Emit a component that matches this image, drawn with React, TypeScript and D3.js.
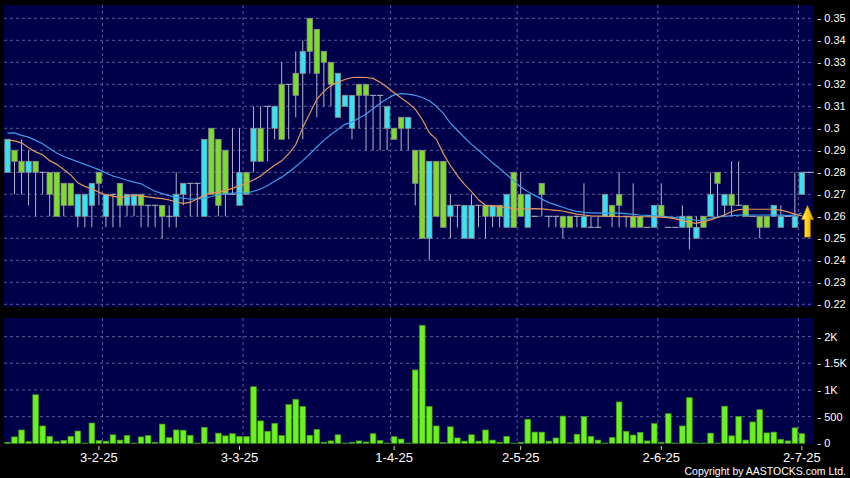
import React from 'react';
import * as d3 from 'd3';

// ---- Data ----
const opens = [
  0.28, 0.29, 0.285, 0.28, 0.285, 0.28, 0.28, 0.28, 0.275, 0.275,
  0.26, 0.26, 0.265, 0.28, 0.26, 0.27, 0.275, 0.265, 0.265, 0.27,
  0.265, 0.265, 0.265, 0.26, 0.26, 0.27, 0.275, 0.275, 0.26, 0.30,
  0.295, 0.29, 0.27, 0.265, 0.28, 0.285, 0.30, 0.31, 0.30, 0.32,
  0.32, 0.325, 0.325, 0.35, 0.345, 0.335, 0.33, 0.305, 0.31, 0.30,
  0.32, 0.32, 0.315, 0.315, 0.30, 0.30, 0.305, 0.30, 0.29, 0.29,
  0.25, 0.285, 0.285, 0.26, 0.265, 0.25, 0.25, 0.265, 0.265, 0.26,
  0.265, 0.255, 0.28, 0.27, 0.255, 0.26, 0.275, 0.26, 0.26, 0.26,
  0.26, 0.26, 0.255, 0.255, 0.255, 0.26, 0.265, 0.27, 0.26, 0.26,
  0.26, 0.255, 0.255, 0.265, 0.255, 0.255, 0.255, 0.26, 0.25, 0.26,
  0.26, 0.28, 0.265, 0.27, 0.265, 0.265, 0.26, 0.26, 0.26, 0.26,
  0.255, 0.26, 0.255, 0.27,
];
const highs = [
  0.295, 0.29, 0.295, 0.29, 0.285, 0.28, 0.28, 0.28, 0.275, 0.275,
  0.27, 0.27, 0.275, 0.28, 0.27, 0.27, 0.275, 0.27, 0.27, 0.27,
  0.265, 0.265, 0.265, 0.265, 0.28, 0.275, 0.275, 0.275, 0.295, 0.30,
  0.295, 0.29, 0.30, 0.30, 0.28, 0.31, 0.31, 0.31, 0.31, 0.33,
  0.32, 0.335, 0.34, 0.35, 0.345, 0.335, 0.33, 0.325, 0.315, 0.315,
  0.32, 0.32, 0.315, 0.315, 0.31, 0.30, 0.305, 0.305, 0.29, 0.29,
  0.285, 0.285, 0.285, 0.27, 0.265, 0.265, 0.27, 0.265, 0.265, 0.265,
  0.265, 0.27, 0.28, 0.28, 0.27, 0.26, 0.275, 0.26, 0.26, 0.26,
  0.26, 0.26, 0.275, 0.26, 0.26, 0.27, 0.265, 0.28, 0.26, 0.275,
  0.26, 0.255, 0.265, 0.275, 0.255, 0.255, 0.265, 0.26, 0.26, 0.26,
  0.28, 0.28, 0.27, 0.285, 0.285, 0.265, 0.26, 0.26, 0.26, 0.265,
  0.265, 0.26, 0.28, 0.28,
];
const lows = [
  0.28, 0.27, 0.27, 0.265, 0.26, 0.27, 0.26, 0.26, 0.26, 0.265,
  0.255, 0.255, 0.255, 0.265, 0.255, 0.255, 0.255, 0.26, 0.26, 0.255,
  0.255, 0.255, 0.25, 0.255, 0.255, 0.265, 0.26, 0.26, 0.26, 0.27,
  0.26, 0.26, 0.27, 0.265, 0.27, 0.28, 0.285, 0.285, 0.295, 0.295,
  0.295, 0.305, 0.295, 0.325, 0.305, 0.31, 0.31, 0.305, 0.31, 0.295,
  0.30, 0.29, 0.29, 0.29, 0.29, 0.295, 0.29, 0.29, 0.265, 0.25,
  0.24, 0.26, 0.255, 0.25, 0.255, 0.25, 0.25, 0.255, 0.25, 0.255,
  0.255, 0.255, 0.255, 0.26, 0.255, 0.26, 0.26, 0.255, 0.255, 0.25,
  0.255, 0.255, 0.255, 0.255, 0.255, 0.26, 0.255, 0.255, 0.255, 0.255,
  0.255, 0.255, 0.255, 0.26, 0.255, 0.255, 0.255, 0.245, 0.25, 0.255,
  0.26, 0.26, 0.26, 0.26, 0.265, 0.26, 0.26, 0.25, 0.255, 0.26,
  0.255, 0.26, 0.255, 0.27,
];
const closes = [
  0.295, 0.285, 0.28, 0.285, 0.28, 0.28, 0.27, 0.26, 0.265, 0.265,
  0.27, 0.27, 0.275, 0.275, 0.27, 0.27, 0.265, 0.27, 0.27, 0.265,
  0.265, 0.265, 0.26, 0.26, 0.27, 0.275, 0.275, 0.275, 0.295, 0.27,
  0.265, 0.27, 0.27, 0.28, 0.27, 0.30, 0.285, 0.31, 0.31, 0.295,
  0.32, 0.315, 0.335, 0.335, 0.325, 0.33, 0.32, 0.325, 0.315, 0.315,
  0.315, 0.315, 0.315, 0.315, 0.31, 0.295, 0.30, 0.305, 0.275, 0.25,
  0.285, 0.26, 0.255, 0.265, 0.265, 0.265, 0.265, 0.265, 0.26, 0.265,
  0.26, 0.27, 0.255, 0.26, 0.27, 0.26, 0.27, 0.26, 0.26, 0.255,
  0.255, 0.26, 0.26, 0.255, 0.255, 0.27, 0.26, 0.265, 0.26, 0.255,
  0.255, 0.255, 0.265, 0.26, 0.255, 0.255, 0.26, 0.255, 0.255, 0.255,
  0.27, 0.275, 0.27, 0.265, 0.265, 0.26, 0.26, 0.255, 0.255, 0.265,
  0.26, 0.26, 0.26, 0.28,
];
const volumes = [
  20, 120, 250, 30, 910, 325, 130, 30, 55, 130,
  230, 5, 380, 50, 40, 160, 60, 145, 5, 120,
  145, 20, 360, 105, 250, 245, 150, 5, 300, 20,
  190, 140, 180, 130, 125, 1060, 420, 225, 375, 145,
  725, 825, 690, 150, 260, 20, 45, 160, 5, 20,
  45, 25, 180, 55, 5, 125, 80, 5, 1375, 2212,
  690, 325, 15, 310, 100, 40, 160, 40, 250, 60,
  20, 130, 5, 20, 450, 210, 210, 40, 100, 510,
  10, 170, 500, 130, 60, 5, 110, 775, 225, 155,
  205, 45, 370, 20, 555, 5, 325, 855, 5, 5,
  190, 5, 695, 140, 505, 60, 400, 630, 195, 210,
  75, 45, 290, 180,
];
const maShort = [
  0.2947, 0.2943, 0.2934, 0.2912, 0.2893, 0.2880, 0.2853, 0.2836, 0.2813, 0.2788,
  0.2752, 0.2736, 0.2724, 0.2710, 0.2697, 0.2692, 0.2686, 0.2690, 0.2695, 0.2693,
  0.2688, 0.2684, 0.2680, 0.2674, 0.2665, 0.2659, 0.2663, 0.2680, 0.2695, 0.2707,
  0.2709, 0.2718, 0.2727, 0.2739, 0.2751, 0.2765, 0.2783, 0.2808, 0.2832, 0.2852,
  0.2885, 0.2925, 0.3004, 0.3067, 0.3132, 0.3168, 0.3194, 0.3210, 0.3222, 0.3231,
  0.3232, 0.3231, 0.3227, 0.3209, 0.3187, 0.3162, 0.3138, 0.3115, 0.3087, 0.3040,
  0.2980, 0.2950, 0.2885, 0.2830, 0.2785, 0.2745, 0.2712, 0.2675, 0.2650, 0.2647,
  0.2643, 0.2640, 0.2635, 0.2632, 0.2634, 0.2635, 0.2634, 0.2630, 0.2627, 0.2624,
  0.2617, 0.2610, 0.2606, 0.2602, 0.2601, 0.2601, 0.2600, 0.2599, 0.2598, 0.2598,
  0.2598, 0.2598, 0.2597, 0.2596, 0.2594, 0.2588, 0.2580, 0.2572, 0.2568, 0.2576,
  0.2584, 0.2595, 0.2606, 0.2622, 0.2630, 0.2632, 0.2632, 0.2632, 0.2632, 0.2632,
  0.2628, 0.2620, 0.2610, 0.2602,
];
const maLong = [
  0.2978, 0.2979, 0.2968, 0.2960, 0.2945, 0.2930, 0.2908, 0.2888, 0.2872, 0.2860,
  0.2848, 0.2836, 0.2824, 0.2812, 0.2797, 0.2783, 0.2774, 0.2764, 0.2755, 0.2748,
  0.2730, 0.2714, 0.2703, 0.2694, 0.2686, 0.2682, 0.2678, 0.2679, 0.2683, 0.2690,
  0.2698, 0.2702, 0.2705, 0.2705, 0.2705, 0.2714, 0.2724, 0.2740, 0.2759, 0.2778,
  0.2800, 0.2826, 0.2853, 0.2883, 0.2915, 0.2945, 0.2972, 0.2995, 0.3018, 0.3028,
  0.3047, 0.3064, 0.3090, 0.3114, 0.3134, 0.3152, 0.3158, 0.3155, 0.3150, 0.3140,
  0.3125, 0.3100, 0.3068, 0.3023, 0.2990, 0.2958, 0.2927, 0.2900, 0.2872, 0.2843,
  0.2817, 0.2790, 0.2762, 0.2733, 0.2713, 0.2695, 0.2678, 0.2662, 0.2652, 0.2641,
  0.2630, 0.2622, 0.2618, 0.2616, 0.2614, 0.2614, 0.2614, 0.2614, 0.2612, 0.2609,
  0.2606, 0.2604, 0.2602, 0.2600, 0.2597, 0.2594, 0.2590, 0.2586, 0.2582, 0.2583,
  0.2591, 0.2597, 0.2600, 0.2603, 0.2605, 0.2606, 0.2606, 0.2606, 0.2606, 0.2606,
  0.2605, 0.2603, 0.2605, 0.2615,
];
const priceTicks = [0.22, 0.23, 0.24, 0.25, 0.26, 0.27, 0.28, 0.29, 0.3, 0.31, 0.32, 0.33, 0.34, 0.35];
const volTicks = [0, 500, 1000, 1500, 2000];
const volTickLabels = ['0', '500', '1K', '1.5K', '2K'];
const dateLabels = ['3-2-25', '3-3-25', '1-4-25', '2-5-25', '2-6-25', '2-7-25'];
const dateTickIndex = [13, 33, 55, 73, 93, 113];
const gridIndex = [13, 33, 54, 72, 92, 112];

// ---- Styles ----
const BG = '#000000';
const PANEL = '#00004a';
const GRID = '#5a5a96';
const UP = '#38e2f2';
const DOWN = '#7ddc2c';
const WICK = '#b4b4c8';
const BORDER = '#8c8c8c';
const VOL = '#6cf020';
const VOL_BORDER = '#3f9a18';
const MA_S = '#e39660';
const MA_L = '#3f9de8';
const FONT = '"Liberation Sans", Arial, sans-serif';

export default function App() {
  const N = closes.length;
  const left = 4, right = 814;
  const mainTop = 5, mainBottom = 307;
  const volTop = 318, volBottom = 444;

  const x = d3.scaleLinear().domain([0, N - 1]).range([7.5, 801.9]);
  const step = x(1) - x(0);
  const y = d3.scaleLinear().domain([0.22, 0.35]).range([304.3, 18.3]);
  const yv = d3.scaleLinear().domain([0, 2000]).range([443.3, 336.6]);
  const bodyW = 5.4;
  const volW = 5.6;

  const lineGen = d3.line<number>().x((_, i) => x(i)).y((d) => y(d));

  const last = N - 1;
  const ax = x(last) + 5.6;
  const aTop = y(0.265);
  const aBot = y(0.2505);
  const aMid = aTop + (aBot - aTop) * 0.45;
  const hw = 6.2, sw = 3.0;
  const arrowPath = `M${ax},${aTop} L${ax + hw},${aMid} L${ax + sw},${aMid} L${ax + sw},${aBot} L${ax - sw},${aBot} L${ax - sw},${aMid} L${ax - hw},${aMid} Z`;

  return (
    <svg width={850} height={478} style={{ position: 'absolute', left: 0, top: 0, display: 'block' }}>
      <defs>
        <clipPath id="mainClip">
          <rect x={left} y={mainTop} width={right - left} height={mainBottom - mainTop} />
        </clipPath>
        <linearGradient id="arrowGrad" x1="0" y1="0" x2="1" y2="0">
          <stop offset="0" stopColor="#fff38a" />
          <stop offset="0.45" stopColor="#ffd21a" />
          <stop offset="1" stopColor="#e89400" />
        </linearGradient>
      </defs>
      <rect x={0} y={0} width={850} height={478} fill={BG} />
      <rect x={left} y={mainTop} width={right - left} height={mainBottom - mainTop} fill={PANEL} />
      <rect x={left} y={volTop} width={right - left} height={volBottom - volTop} fill={PANEL} />

      {/* price grid */}
      {priceTicks.map((t) => (
        <line key={'pg' + t} x1={left} x2={right} y1={y(t)} y2={y(t)} stroke={GRID} strokeDasharray="3 3" strokeWidth={1} />
      ))}
      {gridIndex.map((g) => (
        <line key={'vg' + g} x1={x(g) + step / 2} x2={x(g) + step / 2} y1={mainTop} y2={mainBottom} stroke={GRID} strokeDasharray="3 3" strokeWidth={1} />
      ))}
      {/* volume grid */}
      {volTicks.slice(1).map((t) => (
        <line key={'vvg' + t} x1={left} x2={right} y1={yv(t)} y2={yv(t)} stroke={GRID} strokeDasharray="3 3" strokeWidth={1} />
      ))}
      {gridIndex.map((g) => (
        <line key={'vvx' + g} x1={x(g) + step / 2} x2={x(g) + step / 2} y1={volTop} y2={volBottom} stroke={GRID} strokeDasharray="3 3" strokeWidth={1} />
      ))}

      {/* candles */}
      <g clipPath="url(#mainClip)">
        {closes.map((c, i) => (
          <line key={'w' + i} x1={x(i)} x2={x(i)} y1={y(highs[i])} y2={y(lows[i])} stroke={WICK} strokeWidth={1} />
        ))}
        {closes.map((c, i) => {
          const o = opens[i];
          if (o === c) {
            return <line key={'b' + i} x1={x(i) - bodyW / 2 - 0.5} x2={x(i) + bodyW / 2 + 0.5} y1={y(c)} y2={y(c)} stroke={WICK} strokeWidth={1} />;
          }
          const top = y(Math.max(o, c));
          const bot = y(Math.min(o, c));
          return (
            <rect key={'b' + i} x={x(i) - bodyW / 2} y={top} width={bodyW} height={bot - top}
              fill={c > o ? UP : DOWN} stroke={BORDER} strokeWidth={0.8} />
          );
        })}
        <path d={lineGen(maLong) || ''} fill="none" stroke={MA_L} strokeWidth={1.2} />
        <path d={lineGen(maShort) || ''} fill="none" stroke={MA_S} strokeWidth={1.2} />
        <line x1={x(last) + bodyW / 2} x2={right} y1={y(closes[last])} y2={y(closes[last])} stroke={WICK} strokeWidth={1} />
        <path d={arrowPath} fill="url(#arrowGrad)" stroke="#8a6400" strokeWidth={0.7} />
      </g>

      {/* volume bars */}
      {volumes.map((v, i) => (
        <rect key={'v' + i} x={x(i) - volW / 2} y={yv(v)} width={volW} height={yv(0) - yv(v)}
          fill={VOL} stroke={VOL_BORDER} strokeWidth={0.7} />
      ))}

      {/* price axis labels */}
      {priceTicks.map((t) => (
        <text key={'pl' + t} x={817.5} y={y(t) + 4} fill="#ffffff" fontSize={11} fontFamily={FONT}>
          {'- ' + d3.format('')(+t.toFixed(2))}
        </text>
      ))}
      {/* volume axis labels */}
      {volTicks.map((t, k) => (
        <text key={'vl' + t} x={817.5} y={yv(t) + 4} fill="#ffffff" fontSize={11} fontFamily={FONT}>
          {'- ' + volTickLabels[k]}
        </text>
      ))}

      {/* date ticks */}
      {dateTickIndex.map((di, k) => (
        <g key={'dt' + di}>
          <line x1={x(di)} x2={x(di)} y1={446} y2={450} stroke="#cccccc" strokeWidth={1} />
          <text x={x(di)} y={462} fill="#ffffff" fontSize={13} fontFamily={FONT} textAnchor="middle">
            {dateLabels[k]}
          </text>
        </g>
      ))}

      <text x={846} y={475} fill="#ffffff" fontSize={10.5} fontFamily={FONT} textAnchor="end">
        Copyright by AASTOCKS.com Ltd.
      </text>
    </svg>
  );
}
